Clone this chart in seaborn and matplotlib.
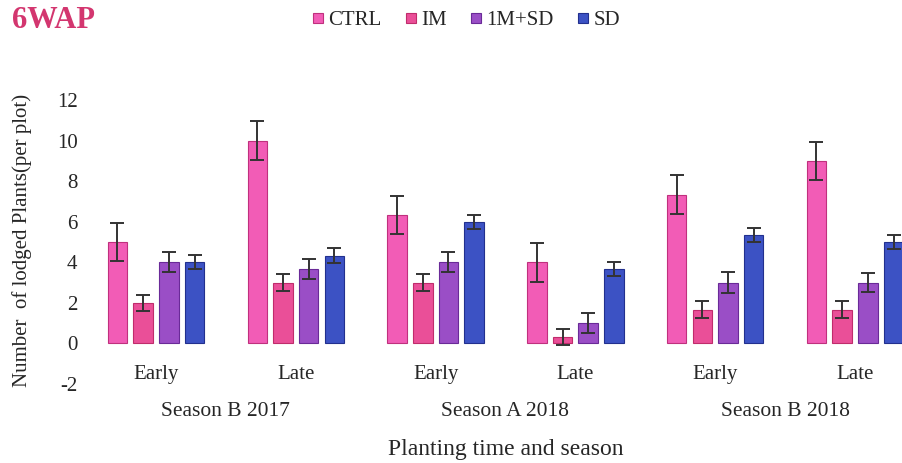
import numpy as np
import pandas as pd
import matplotlib
matplotlib.use("Agg")
import matplotlib.pyplot as plt
import seaborn as sns
from matplotlib.lines import Line2D
from matplotlib.transforms import blended_transform_factory

sns.set_theme(style="white")
plt.rcParams['font.family'] = ['Liberation Serif', 'DejaVu Serif']

groups = ["B17 Early", "B17 Late", "A18 Early", "A18 Late", "B18 Early", "B18 Late"]
tick_labels = ["Early", "Late", "Early", "Late", "Early", "Late"]
seasons = ["Season B 2017", "Season A 2018", "Season B 2018"]
treatments = ["CTRL", "IM", "1M+SD", "SD"]

ctrl = [5.0, 10.0, 6.33, 4.0, 7.33, 9.0]
im = [2.0, 3.0, 3.0, 0.33, 1.67, 1.67]
imsd = [4.0, 3.67, 4.0, 1.0, 3.0, 3.0]
sd = [4.0, 4.33, 6.0, 3.67, 5.33, 5.0]

ctrl_err = [0.95, 0.95, 0.95, 0.95, 0.95, 0.95]
im_err = [0.4, 0.4, 0.4, 0.4, 0.4, 0.4]
imsd_err = [0.5, 0.5, 0.5, 0.5, 0.5, 0.45]
sd_err = [0.35, 0.35, 0.35, 0.35, 0.35, 0.35]

colors = ["#f25cb6", "#ea4f98", "#9a4ec6", "#3c52c4"]
edges = ["#c0307e", "#c02c6c", "#6a2a98", "#22308e"]

values = [ctrl, im, imsd, sd]
errs = [ctrl_err, im_err, imsd_err, sd_err]
rows = []
for t, vals in zip(treatments, values):
    for g, v in zip(groups, vals):
        rows.append({"group": g, "treatment": t, "value": v})
df = pd.DataFrame(rows)

W, H = 902, 463
fig = plt.figure(figsize=(W / 100, H / 100), dpi=100)
ax_left, ax_right, ax_top, ax_bot = 90, 960, 100, 384
ax = fig.add_axes([ax_left / W, (H - ax_bot) / H, (ax_right - ax_left) / W, (ax_bot - ax_top) / H])

sns.barplot(data=df, x="group", y="value", hue="treatment", order=groups,
            hue_order=treatments, palette=colors, saturation=1, errorbar=None,
            width=0.735, gap=0.24, ax=ax, legend=False, linewidth=0.8)

for cont, ec, er in zip(ax.containers, edges, errs):
    xs, ys = [], []
    for p in cont.patches:
        p.set_edgecolor(ec)
        xs.append(p.get_x() + p.get_width() / 2)
        ys.append(p.get_height())
    ax.errorbar(xs, ys, yerr=er, fmt="none", ecolor="#333333", elinewidth=1.4,
                capsize=5, capthick=1.4, zorder=5)

px_per_unit = 139.8
x0_px = 156
ax.set_xlim((ax_left - x0_px) / px_per_unit, (ax_right - x0_px) / px_per_unit)
ax.set_ylim(-2, 12)
ax.set_yticks(np.arange(-2, 13, 2))
ax.set_yticklabels([str(v) for v in np.arange(-2, 13, 2)], fontsize=15)
ax.set_xticks(range(len(groups)))
ax.set_xticklabels(tick_labels, fontsize=15)
ax.tick_params(axis="x", length=0, pad=-14)
ax.tick_params(axis="y", length=0, pad=9)
for s in ax.spines.values():
    s.set_visible(False)
ax.set_xlabel("")
ax.set_ylabel("")

tr = blended_transform_factory(ax.transData, ax.transAxes)
for i, s in enumerate(seasons):
    ax.text(2 * i + 0.5, (ax_bot - 411) / (ax_bot - ax_top), s, transform=tr,
            ha="center", va="center", fontsize=15.5)
ax.text(2.5, (ax_bot - 449) / (ax_bot - ax_top), "Planting time and season",
        transform=tr, ha="center", va="center", fontsize=17)

fig.text(22 / W, 1 - 240 / H, "Number  of lodged Plants(per plot)", rotation=90,
         ha="center", va="center", fontsize=15)

fig.text(12 / W, 1 - 21 / H, "6WAP", ha="left", va="center", fontsize=22,
         fontweight="bold", color="#d3366f")

handles = [Line2D([], [], marker="s", linestyle="none", markersize=7,
                  markerfacecolor=c, markeredgecolor=e, markeredgewidth=0.8)
           for c, e in zip(colors, edges)]
fig.legend(handles, treatments, loc="center", bbox_to_anchor=(466 / W, 1 - 20 / H),
           ncol=4, frameon=False, fontsize=15, handlelength=0.6, handletextpad=0.2,
           columnspacing=1.1)

fig.savefig("out.png", dpi=100)
